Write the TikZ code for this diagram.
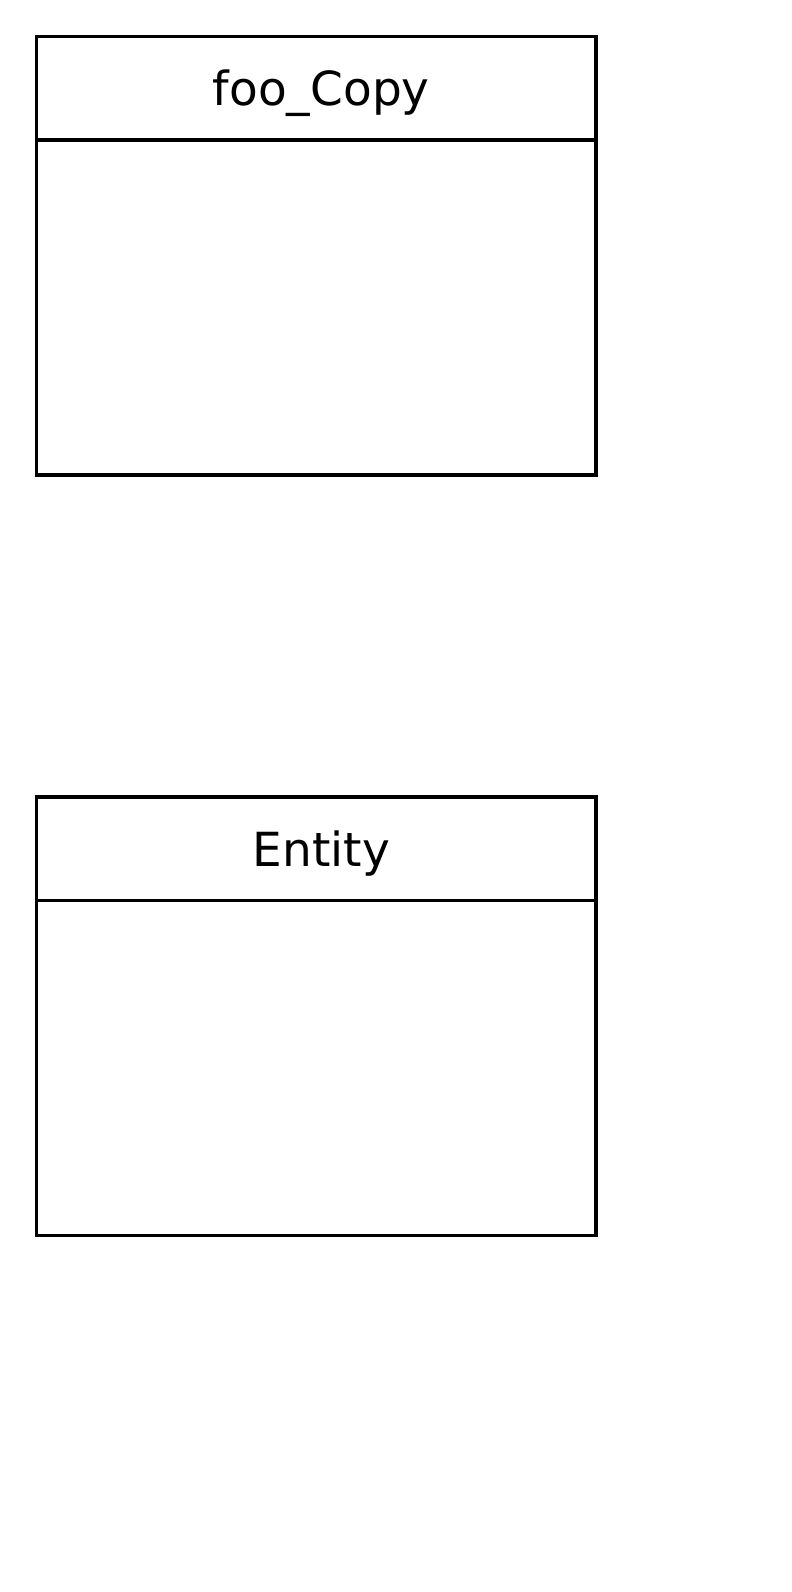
\documentclass[tikz,border=0pt]{standalone}
\usepackage{fontspec}
\setmainfont{DejaVu Sans}
\usetikzlibrary{positioning}

\begin{document}
\begin{tikzpicture}[x=1pt,y=1pt,
    entityhead/.style={draw,line width=1.6pt,outer sep=0pt,inner sep=0pt,
      minimum width=279.7pt,minimum height=51.7pt,
      font=\fontsize{23.5}{28}\selectfont},
    entitybody/.style={draw,line width=1.6pt,outer sep=0pt,inner sep=0pt,
      minimum width=279.7pt,minimum height=167.5pt},
    headtext/.style={inner sep=0pt,xshift=2.5pt,yshift=-2.5pt,
      font=\fontsize{23.5}{28}\selectfont}]

\useasboundingbox (0,0) rectangle (396,-796);

\node[entityhead,anchor=north west] (fooHead) at (18.3,-18.3) {};
\node[headtext] (fooName) at (fooHead) {foo\_Copy};
\node[entitybody,below=0pt of fooHead] (fooBody) {};

\node[entityhead,below=161pt of fooBody] (entityHead) {};
\node[headtext] (entityName) at (entityHead) {Entity};
\node[entitybody,below=0pt of entityHead] (entityBody) {};

\end{tikzpicture}
\end{document}
